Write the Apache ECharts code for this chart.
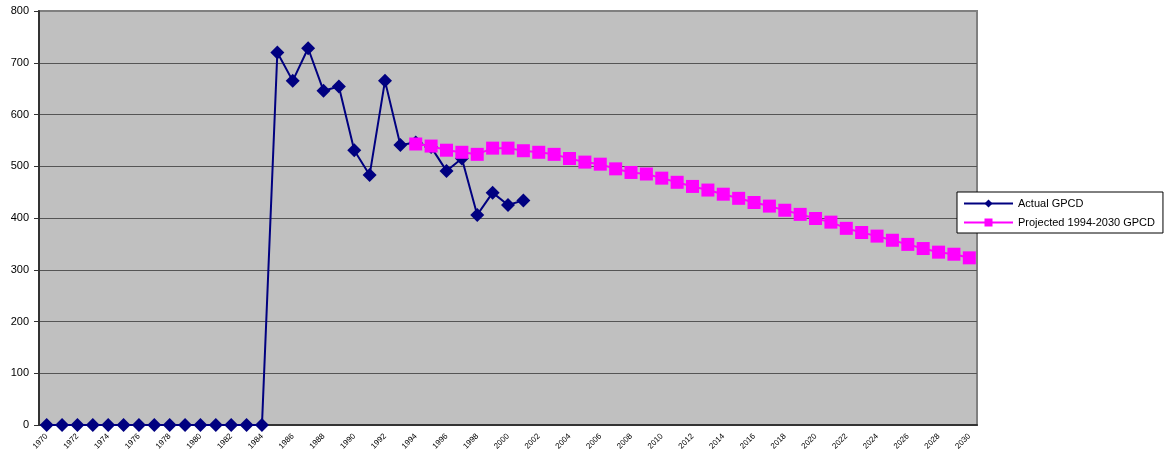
<!DOCTYPE html>
<html>
<head>
<meta charset="utf-8">
<title>GPCD</title>
<script src="https://cdn.jsdelivr.net/npm/echarts@6/dist/echarts.min.js"></script>
<style>
  html, body { margin: 0; padding: 0; background: #fff; }
  #chart { width: 1166px; height: 474px; }
</style>
</head>
<body>
<div id="chart"></div>
<script>
// years on the category axis
const years = [
  '1970', '1971', '1972', '1973', '1974', '1975', '1976', '1977', '1978', '1979',
  '1980', '1981', '1982', '1983', '1984', '1985', '1986', '1987', '1988', '1989',
  '1990', '1991', '1992', '1993', '1994', '1995', '1996', '1997', '1998', '1999',
  '2000', '2001', '2002', '2003', '2004', '2005', '2006', '2007', '2008', '2009',
  '2010', '2011', '2012', '2013', '2014', '2015', '2016', '2017', '2018', '2019',
  '2020', '2021', '2022', '2023', '2024', '2025', '2026', '2027', '2028', '2029',
  '2030'
]

// actual GPCD, 1970 - 2001
const actualGpcd = [
  0, 0, 0, 0, 0, 0, 0, 0, 0, 0, 0, 0, 0, 0, 0,
  720, 665, 728, 646, 654, 531, 483, 665, 541, 546,
  537, 491, 515, 406, 449, 425, 434
]

// projected GPCD, 1994 - 2030
const projectedGpcd = [
  543, 539, 531, 527, 523, 535, 535, 530, 527, 523,
  515, 508, 504, 495, 488, 485, 477, 469, 461, 454,
  446, 438, 430, 423, 415, 407, 399, 392, 380, 372,
  365, 357, 349, 341, 334, 330, 323
]

const yTicks = [0, 100, 200, 300, 400, 500, 600, 700, 800]

const chart = echarts.init(document.getElementById('chart'), null, { renderer: 'canvas' })

// pad the series so each one lines up with the years
function alignTo(startYear, values) {
  let out = []
  years.forEach(function (y, i) {
    let k = i - years.indexOf(startYear)
    out.push(k >= 0 && k < values.length ? values[k] : null)
  })
  return out
}

const option = {
  backgroundColor: '#ffffff',
  textStyle: { fontFamily: 'Liberation Sans, Arial, sans-serif' },
  animation: false,
  grid: {
    left: 39,
    top: 11,
    right: 189,
    bottom: 49,
    show: true,
    backgroundColor: '#c0c0c0',
    borderColor: '#808080',
    borderWidth: 2
  },
  legend: {
    orient: 'vertical',
    left: 957,
    top: 192,
    padding: [6, 8, 5, 6],
    itemGap: 8,
    itemWidth: 49,
    itemHeight: 10,
    backgroundColor: '#ffffff',
    borderColor: '#000000',
    borderWidth: 1,
    textStyle: { fontSize: 11, color: '#000' },
    data: ['Actual GPCD', 'Projected 1994-2030 GPCD']
  },
  xAxis: {
    type: 'category',
    data: years,
    boundaryGap: true,
    axisLine: { lineStyle: { color: '#333', width: 2 } },
    axisTick: { interval: 1, length: 4, lineStyle: { color: '#333' } },
    axisLabel: {
      interval: 1,
      rotate: 45,
      fontSize: 8,
      color: '#000',
      margin: 10
    },
    splitLine: { show: false }
  },
  yAxis: {
    type: 'value',
    min: yTicks[0],
    max: yTicks[yTicks.length - 1],
    interval: 100,
    axisLine: { show: true, lineStyle: { color: '#333', width: 2 } },
    axisTick: { show: true, length: 5, lineStyle: { color: '#333' } },
    axisLabel: { fontSize: 11, color: '#000', margin: 10 },
    splitLine: {
      lineStyle: {
        color: ['#555', '#555', '#555', '#555', '#555', '#555', '#555', '#555', '#808080'],
        width: 1
      }
    }
  },
  series: [
    {
      name: 'Actual GPCD',
      type: 'line',
      data: alignTo('1970', actualGpcd),
      symbol: 'diamond',
      symbolSize: 14,
      showAllSymbol: true,
      color: '#000080',
      lineStyle: { color: '#000080', width: 2 },
      itemStyle: { color: '#000080' },
      z: 2
    },
    {
      name: 'Projected 1994-2030 GPCD',
      type: 'line',
      data: alignTo('1994', projectedGpcd),
      symbol: 'rect',
      symbolSize: 13,
      showAllSymbol: true,
      color: '#ff00ff',
      lineStyle: { color: '#ff00ff', width: 2 },
      itemStyle: { color: '#ff00ff' },
      z: 3
    }
  ]
}

chart.setOption(option)
</script>
</body>
</html>
